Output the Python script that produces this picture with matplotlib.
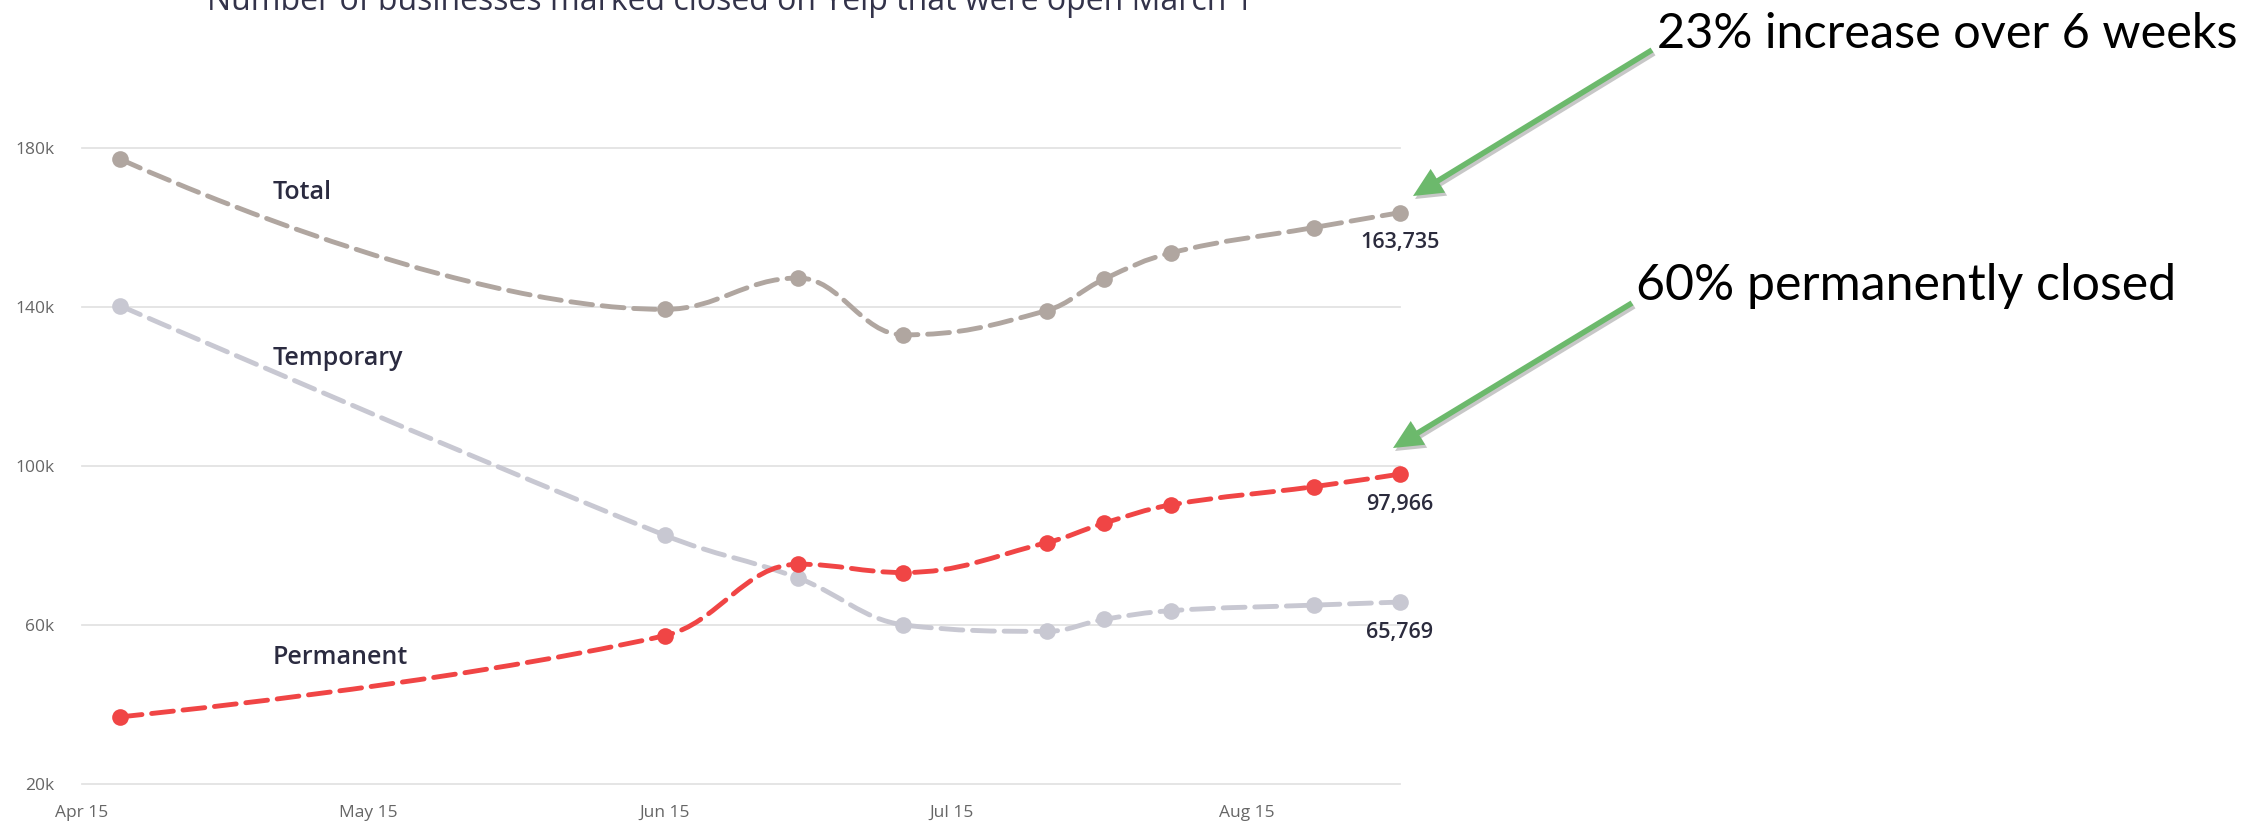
# Yelp closures chart - spline lines with callout arrows
import numpy as np
import matplotlib
matplotlib.use('Agg')
import matplotlib.pyplot as plt
import matplotlib.dates as mdates
from matplotlib.path import Path
from matplotlib.patches import PathPatch, FancyArrowPatch, ArrowStyle

W, H = 2267, 824

dates = ['2020-04-19', '2020-06-15', '2020-06-29', '2020-07-10', '2020-07-25',
         '2020-07-31', '2020-08-07', '2020-08-22', '2020-08-31']
total = [177200, 139400, 147300, 133000, 139100, 147000, 153600, 160000, 163735]
temporary = [140300, 82600, 71800, 60000, 58400, 61400, 63600, 65000, 65769]
permanent = [36900, 57300, 75300, 73200, 80700, 85600, 90200, 94800, 97966]

series_names = ['Total', 'Temporary', 'Permanent']
series_colors = ['#b0a6a0', '#c8c8d2', '#f04545']
name_pos = [('2020-05-05', 167200), ('2020-05-05', 125400), ('2020-05-05', 50200)]

title = 'Number of businesses marked closed on Yelp that were open March 1'
yticks = [20000, 60000, 100000, 140000, 180000]
xticks = ['2020-04-15', '2020-05-15', '2020-06-15', '2020-07-15', '2020-08-15']
xlim = ['2020-04-15', '2020-08-31']

notes = ['23% increase over 6 weeks', '60% permanently closed']


def d2n(lst):
    return mdates.date2num(np.array(lst, dtype='datetime64[D]'))


def fpx(x, y):
    # pixel from top-left -> figure fraction
    return (x / W, 1 - y / H)


def spline_path(xs, ys, smoothing=1.5):
    # highcharts-like spline
    n = len(xs)
    left = [None] * n
    right = [None] * n
    d = smoothing + 1
    for i in range(1, n - 1):
        px, py = xs[i], ys[i]
        lx, ly = xs[i - 1], ys[i - 1]
        nx, ny = xs[i + 1], ys[i + 1]
        lcx = (smoothing * px + lx) / d
        lcy = (smoothing * py + ly) / d
        rcx = (smoothing * px + nx) / d
        rcy = (smoothing * py + ny) / d
        corr = 0
        if rcx != lcx:
            corr = (rcy - lcy) * (rcx - px) / (rcx - lcx) + py - rcy
        lcy += corr
        rcy += corr
        if lcy > ly and lcy > py:
            lcy = max(ly, py); rcy = 2 * py - lcy
        elif lcy < ly and lcy < py:
            lcy = min(ly, py); rcy = 2 * py - lcy
        if rcy > ny and rcy > py:
            rcy = max(ny, py); lcy = 2 * py - rcy
        elif rcy < ny and rcy < py:
            rcy = min(ny, py); lcy = 2 * py - rcy
        left[i] = (lcx, lcy)
        right[i] = (rcx, rcy)
    verts = [(xs[0], ys[0])]
    codes = [Path.MOVETO]
    for i in range(1, n):
        c1 = right[i - 1] if right[i - 1] else (xs[i - 1], ys[i - 1])
        c2 = left[i] if left[i] else (xs[i], ys[i])
        verts += [c1, c2, (xs[i], ys[i])]
        codes += [Path.CURVE4] * 3
    return Path(verts, codes)


fig = plt.figure(figsize=(W / 100, H / 100), dpi=100)
ax = fig.add_axes([82 / W, 1 - 784 / H, (1400 - 82) / W, (784 - 68.5) / H])
ax.set_ylim(20000, 200000)
ax.set_xlim(d2n(xlim))
for s in ax.spines.values():
    s.set_visible(False)

for v in yticks:
    ax.axhline(v, color='#e3e3e3', lw=1.3, zorder=0, clip_on=False)

ax.set_yticks(yticks)
ax.set_yticklabels([f'{v // 1000}k' for v in yticks])
ax.set_xticks(d2n(xticks))
ax.xaxis.set_major_formatter(mdates.DateFormatter('%b %d'))
ax.tick_params(axis='y', length=0, pad=20, labelsize=12.5, labelcolor='#666666')
ax.tick_params(axis='x', length=0, pad=15, labelsize=12.5, labelcolor='#666666')
for lab in ax.get_xticklabels() + ax.get_yticklabels():
    lab.set_fontfamily('Open Sans')

x = d2n(dates)
lw = 3.5
for i, (vals, col) in enumerate(zip([total, temporary, permanent], series_colors)):
    p = PathPatch(spline_path(list(x), list(vals)), fill=False, edgecolor=col,
                  lw=lw, linestyle=(0, (4.5, 2.0)), zorder=2 + i)
    p.set_capstyle('round')
    ax.add_patch(p)
    ax.plot(x, vals, 'o', ms=12, color=col, mec='none', zorder=2.5 + i, clip_on=False)
    ax.annotate(f'{vals[-1]:,}', (x[-1], vals[-1]), xytext=(0, -21.6),
                textcoords='offset points', ha='center', va='center',
                fontsize=15.5, fontweight='semibold', color='#2b2b3d',
                family='Open Sans', zorder=10)
    nx, ny = name_pos[i]
    ax.text(d2n([nx])[0], ny, series_names[i], fontsize=18, fontweight='semibold',
            color='#2b2b40', family='Open Sans', va='baseline', ha='left')

fig.text(*fpx(730, 10), title, ha='center', va='baseline', fontsize=23,
         color='#33334a', family='Open Sans')

# callouts
fig.text(*fpx(1657, 48), notes[0], ha='left', va='baseline', fontsize=35,
         family='Lato', color='black')
fig.text(*fpx(1636, 300), notes[1], ha='left', va='baseline', fontsize=36,
         family='Lato', color='black')

green = '#6cb96c'
arrows = [((1652, 50), (1413, 196)), ((1632, 303), (1393, 448))]
for a, b in arrows:
    style = ArrowStyle('simple', head_length=21, head_width=20, tail_width=4)
    sh = FancyArrowPatch(fpx(a[0] + 2, a[1] + 3), fpx(b[0] + 2, b[1] + 3),
                         transform=fig.transFigure, arrowstyle=style,
                         mutation_scale=1, color='#9a9a9a', alpha=0.55,
                         shrinkA=0, shrinkB=0, lw=0)
    fig.add_artist(sh)
    ar = FancyArrowPatch(fpx(*a), fpx(*b), transform=fig.transFigure,
                         arrowstyle=style, mutation_scale=1, color=green,
                         shrinkA=0, shrinkB=0, lw=0)
    fig.add_artist(ar)

fig.savefig('out.png', dpi=100)
